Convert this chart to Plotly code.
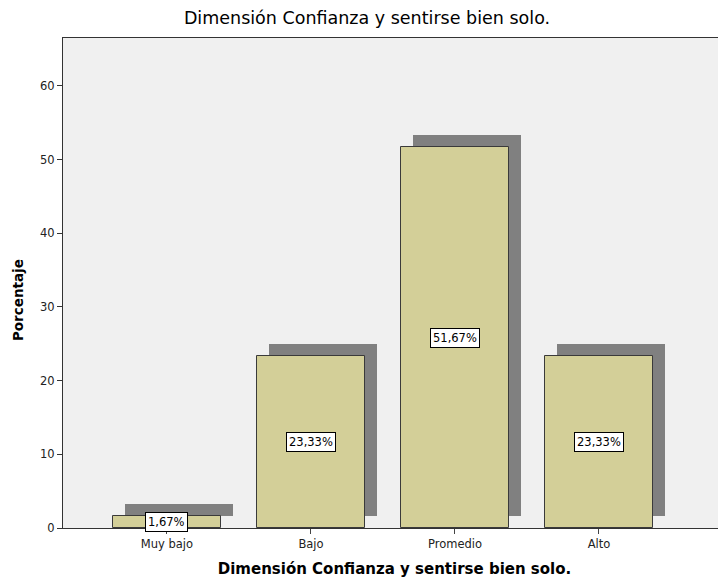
import plotly.graph_objects as go

categorias = ['Muy bajo', 'Bajo', 'Promedio', 'Alto']
porcentajes = [1.67, 23.33, 51.67, 23.33]
etiquetas = ['1,67%', '23,33%', '51,67%', '23,33%']
y_ticks = [0, 10, 20, 30, 40, 50, 60]

xpos = list(range(len(categorias)))
dx = 0.083   # desplazamiento de la sombra (derecha)
dy = 1.63    # desplazamiento de la sombra (arriba)

fig = go.Figure()

# sombras
fig.add_trace(go.Bar(
    x=[p + dx for p in xpos], y=porcentajes, base=[dy] * len(xpos),
    width=0.75, marker=dict(color='#808080', line=dict(width=0)),
    hoverinfo='skip', showlegend=False))

# barras
fig.add_trace(go.Bar(
    x=xpos, y=porcentajes, width=0.75,
    marker=dict(color='#d3cf98', line=dict(color='#3a3a3a', width=1)),
    showlegend=False))

for p, v, t in zip(xpos, porcentajes, etiquetas):
    fig.add_annotation(x=p, y=v / 2, text=t, showarrow=False,
                       font=dict(family='DejaVu Sans', size=11.5, color='black'),
                       bgcolor='white', bordercolor='black', borderwidth=1, borderpad=2)

# titulo del eje y (algo desplazado hacia abajo, como en el original)
fig.add_annotation(text='<b>Porcentaje</b>', xref='paper', yref='paper',
                   x=-0.068, y=0.465, xanchor='center', yanchor='middle',
                   textangle=-90, showarrow=False,
                   font=dict(family='DejaVu Sans', size=13.5, color='black'))

# la pagina tiene un margen de 8px en el body
fig.update_layout(
    width=718, height=574,
    margin=dict(l=55, r=0, t=30, b=54),
    paper_bgcolor='white', plot_bgcolor='#f0f0f0',
    barmode='overlay', bargap=0,
    title=dict(text='Dimensión Confianza y sentirse bien solo.',
               x=0.5, xanchor='center', y=0.983, yanchor='middle',
               font=dict(family='DejaVu Sans', size=17.5, color='black')),
    font=dict(family='DejaVu Sans', size=11.5, color='#222'),
)

fig.update_xaxes(
    range=[-0.722, 3.882], tickvals=xpos, ticktext=categorias,
    ticks='outside', ticklen=5, tickcolor='#444', showgrid=False, zeroline=False,
    showline=True, linecolor='#333', linewidth=1, mirror=True,
    title=dict(text='<b>Dimensión Confianza y sentirse bien solo.</b>', standoff=13,
               font=dict(family='DejaVu Sans', size=15, color='black')),
    automargin=False)

fig.update_yaxes(
    range=[0, 66.5], tickvals=y_ticks,
    ticks='outside', ticklen=5, tickcolor='#333', showgrid=False, zeroline=False,
    showline=True, linecolor='#333', linewidth=1,
    automargin=False)

fig.write_html('out.html')
